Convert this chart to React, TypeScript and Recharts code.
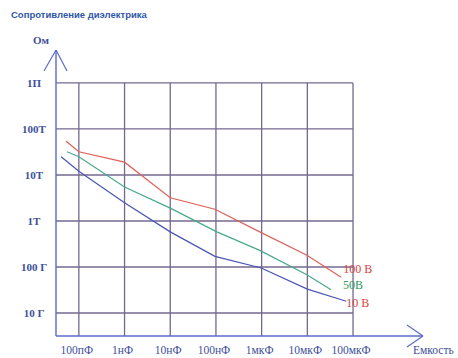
import React from 'react';
import { LineChart, Line, XAxis, YAxis, ReferenceLine, LabelList } from 'recharts';

// Capacitance (F) / insulation resistance (Ohm)
const red100V_x = [5.2e-11, 1e-10, 1e-9, 1e-8, 9.5e-8, 9.1e-7, 9.8e-6, 5.5e-5];
const red100V_y = [5.5e13, 3.2e13, 1.9e13, 3.2e12, 1.8e12, 5.8e11, 1.8e11, 6.0e10];
const green50V_x = [5.5e-11, 1e-10, 1e-9, 1e-8, 1.05e-7, 9.1e-7, 9.8e-6, 3.3e-5];
const green50V_y = [3.2e13, 2.5e13, 5.5e12, 1.9e12, 5.8e11, 2.3e11, 6.8e10, 3.2e10];
const blue10V_x = [4.1e-11, 1e-10, 1e-9, 1e-8, 9.5e-8, 9.8e-7, 1.0e-5, 7.1e-5];
const blue10V_y = [2.5e13, 1.2e13, 2.5e12, 5.8e11, 1.7e11, 9.5e10, 3.3e10, 1.8e10];

const seriesNames = ['100 В', '50В', '10 В'];

const xTicks = [1e-10, 1e-9, 1e-8, 1e-7, 1e-6, 1e-5, 1e-4];
const xTickLabels = ['100пФ', '1нФ', '10нФ', '100нФ', '1мкФ', '10мкФ', '100мкФ'];
const yTicks = [1e10, 1e11, 1e12, 1e13, 1e14, 1e15];
const yTickLabels = ['10 Г', '100 Г', '1Т', '10Т', '100Т', '1П'];

const p10 = (e: number) => Math.pow(10, e);
const X_MIN = p10(-10.5);
const X_MAX = p10(-2.447);
const Y_MIN = p10(9.5);
const Y_MAX = p10(15.76);
const X_GRID_END = 1e-4;
const Y_GRID_END = 1e15;

const zip = (xs: number[], ys: number[]) => xs.map((x, i) => ({ x, y: ys[i] }));
const redData = zip(red100V_x, red100V_y);
const greenData = zip(green50V_x, green50V_y);
const blueData = zip(blue10V_x, blue10V_y);

const GRID = '#74688f';
const AXIS = '#5a6cc8';
const TXT = '#3d4f9c';
const SERIF = "'Liberation Serif', 'Times New Roman', serif";

const makeEndLabel = (name: string, color: string, dx: number, dy: number, last: number) => (p: any) => {
  if (p.index !== last) return null;
  return (
    <text x={p.x + dx} y={p.y + dy} fill={color} fontSize={12} fontFamily={SERIF}>
      {name}
    </text>
  );
};

const XTick = (p: any) => {
  const i = xTicks.indexOf(p.payload.value);
  return (
    <text x={p.x - 2} y={354} textAnchor="middle" fill={TXT} fontSize={11.5} fontFamily={SERIF}>
      {xTickLabels[i]}
    </text>
  );
};

const YTick = (p: any) => {
  const i = yTicks.indexOf(p.payload.value);
  return (
    <text x={34} y={p.y + 4} textAnchor="middle" fill={TXT} fontSize={11} fontWeight={600} fontFamily={SERIF}>
      {yTickLabels[i]}
    </text>
  );
};

export default function App() {
  const yTip = p10(15.717);
  const yArm = p10(15.261);
  const xTip = p10(-2.469);
  const xArm = p10(-2.819);
  return (
    <div style={{ position: 'absolute', left: 0, top: 0, width: 458, height: 358, background: '#fff' }}>
      <div style={{ position: 'absolute', left: 11, top: 9, fontFamily: "'Liberation Sans', Arial, sans-serif", fontSize: 9.5, fontWeight: 'bold', color: '#2f58aa', whiteSpace: 'nowrap' }}>
        Сопротивление диэлектрика
      </div>
      <div style={{ position: 'absolute', left: 33, top: 34, fontFamily: SERIF, fontSize: 11, fontWeight: 600, color: TXT }}>
        Ом
      </div>
      <div style={{ position: 'absolute', left: 413, top: 344, fontFamily: SERIF, fontSize: 11.5, color: TXT }}>
        Емкость
      </div>
      <LineChart width={458} height={358} margin={{ top: 48, right: 34, bottom: 0, left: 0 }}>
        <XAxis
          type="number"
          dataKey="x"
          scale="log"
          domain={[X_MIN, X_MAX]}
          allowDataOverflow
          ticks={xTicks}
          interval={0}
          height={22}
          axisLine={false}
          tickLine={false}
          tick={XTick}
        />
        <YAxis
          type="number"
          dataKey="y"
          scale="log"
          domain={[Y_MIN, Y_MAX]}
          allowDataOverflow
          ticks={yTicks}
          interval={0}
          width={56}
          axisLine={false}
          tickLine={false}
          tick={YTick}
        />
        {yTicks.map((v) => (
          <ReferenceLine key={'h' + v} segment={[{ x: X_MIN, y: v }, { x: X_GRID_END, y: v }]} stroke={GRID} strokeWidth={1.3} ifOverflow="visible" />
        ))}
        {xTicks.map((v) => (
          <ReferenceLine key={'v' + v} segment={[{ x: v, y: Y_MIN }, { x: v, y: Y_GRID_END }]} stroke={GRID} strokeWidth={1.3} ifOverflow="visible" />
        ))}
        <ReferenceLine segment={[{ x: X_MIN, y: Y_MIN }, { x: X_MIN, y: yTip }]} stroke={AXIS} strokeWidth={1.4} ifOverflow="visible" />
        <ReferenceLine segment={[{ x: p10(-10.763), y: yArm }, { x: X_MIN, y: yTip }]} stroke={AXIS} strokeWidth={1.2} ifOverflow="visible" />
        <ReferenceLine segment={[{ x: p10(-10.259), y: yArm }, { x: X_MIN, y: yTip }]} stroke={AXIS} strokeWidth={1.2} ifOverflow="visible" />
        <ReferenceLine segment={[{ x: X_MIN, y: Y_MIN }, { x: xTip, y: Y_MIN }]} stroke={AXIS} strokeWidth={1.4} ifOverflow="visible" />
        <ReferenceLine segment={[{ x: xArm, y: p10(9.739) }, { x: xTip, y: Y_MIN }]} stroke={AXIS} strokeWidth={1.2} ifOverflow="visible" />
        <ReferenceLine segment={[{ x: xArm, y: p10(9.261) }, { x: xTip, y: Y_MIN }]} stroke={AXIS} strokeWidth={1.2} ifOverflow="visible" />
        <Line data={redData} dataKey="y" stroke="#e0605a" strokeWidth={1.2} dot={false} isAnimationActive={false} type="linear">
          <LabelList dataKey="y" content={makeEndLabel(seriesNames[0], '#e0403a', 2, -4, redData.length - 1)} />
        </Line>
        <Line data={greenData} dataKey="y" stroke="#4aa88a" strokeWidth={1.2} dot={false} isAnimationActive={false} type="linear">
          <LabelList dataKey="y" content={makeEndLabel(seriesNames[1], '#2f9a5a', 12, -1, greenData.length - 1)} />
        </Line>
        <Line data={blueData} dataKey="y" stroke="#4a55b5" strokeWidth={1.2} dot={false} isAnimationActive={false} type="linear">
          <LabelList dataKey="y" content={makeEndLabel(seriesNames[2], '#e0403a', 0, 6, blueData.length - 1)} />
        </Line>
      </LineChart>
    </div>
  );
}
